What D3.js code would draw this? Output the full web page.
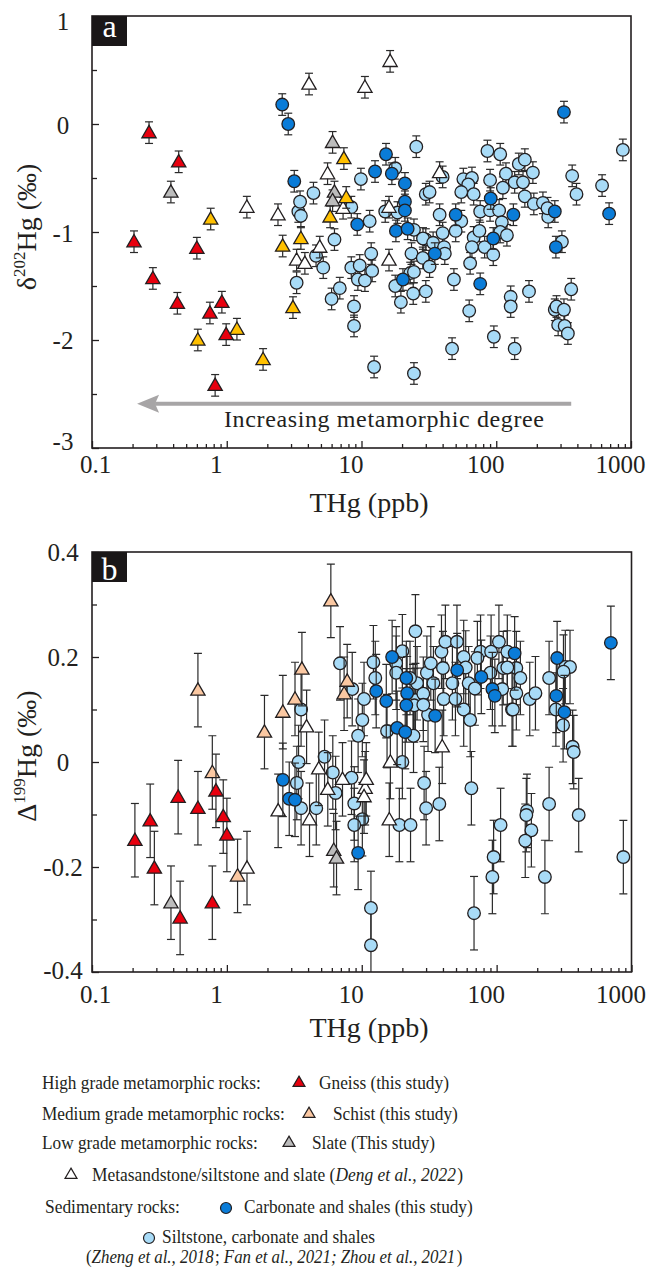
<!DOCTYPE html>
<html><head><meta charset="utf-8">
<script src="https://cdn.jsdelivr.net/npm/d3@7"></script>
<style>
body{margin:0;background:#fff}
svg{display:block}
</style>
</head><body>
<svg id="chart" width="654" height="1271"></svg>
<script>
// ---------------- data ----------------
const xTickValues = [0.1, 1, 10, 100, 1000];
const xTickLabels = ["0.1", "1", "10", "100", "1000"];
const yTickValuesA = [1, 0, -1, -2, -3];
const yTickLabelsA = ["1", "0", "-1", "-2", "-3"];
const yMinorA = [0.5, -0.5, -1.5, -2.5];
const yTickValuesB = [0.4, 0.2, 0, -0.2, -0.4];
const yTickLabelsB = ["0.4", "0.2", "0", "-0.2", "-0.4"];
const yMinorB = [0.3, 0.1, -0.1, -0.3];
const errA = 0.1;   // 2SD on d202Hg
const errB = 0.07;  // 2SD on D199Hg

// Panel a : [THg ppb, d202Hg]
const gneissA = [[0.205,-1.09],[0.265,-0.08],[0.283,-1.43],[0.43,-1.66],[0.44,-0.35],[0.6,-1.15],[0.75,-1.75],[0.82,-2.42],[0.92,-1.65],[0.99,-1.95]];
const schistA = [[0.61,-2.0],[0.76,-0.88],[1.19,-1.90],[1.86,-2.18],[2.6,-1.13],[3.1,-1.70],[3.55,-1.06],[5.85,-0.86],[7.4,-0.32],[7.7,-0.68]];
const slateA = [[0.385,-0.63],[6.1,-0.17],[6.3,-0.63],[6.1,-0.71]];
const dengA = [[1.41,-0.77],[2.4,-0.84],[3.3,-1.26],[3.8,-1.29],[4.08,0.37],[4.9,-1.14],[5.6,-0.46],[7.3,-0.78],[10.6,0.34],[16.3,0.58],[16,-0.77],[16,-1.26],[38,-0.45]];
const darkA = [[2.58,0.18],[2.86,0.0],[3.17,-0.53],[9.3,-0.93],[12.6,-0.44],[15.2,-0.28],[16.8,-0.46],[18,-0.99],[20.3,-1.44],[21,-0.55],[21,-0.72],[21,-0.80],[22,-0.97],[35,-1.2],[50,-0.84],[76,-1.48],[91,-0.69],[95,-1.06],[134,-0.84],[272,-0.81],[277,-1.14],[318,0.11],[688,-0.83]];
const lightA = [[3.3,-1.47],[3.4,-0.81],[3.5,-0.72],[3.55,-0.85],[4.4,-0.64],[4.6,-1.22],[5.2,-1.33],[6.0,-1.62],[6.3,-1.07],[6.9,-1.52],[8.8,-1.69],[8.8,-1.87],[8.4,-1.33],[9.7,-1.31],[9.4,-1.44],[10.6,-1.45],[11.8,-1.2],[12,-1.36],[9.9,-0.51],[11.5,-0.9],[8.4,-0.77],[15,-0.81],[17.8,-0.41],[18.5,-0.82],[25.5,-0.21],[17.8,-1.5],[19.6,-1.65],[23,-1.38],[24.2,-1.57],[23.5,-1.2],[24.5,-0.98],[28.5,-1.24],[30,-1.07],[30,-0.65],[32,-0.63],[32,-1.32],[24.5,-1.37],[30,-1.55],[12.4,-2.25],[24.5,-2.31],[38,-0.84],[40,-0.49],[57,-0.51],[66,-0.5],[86,-0.25],[107,-0.28],[90,-0.52],[118,-0.46],[147,-0.37],[163,-0.33],[187,-0.45],[366,-0.48],[394,-0.65],[610,-0.57],[870,-0.24],[62,-0.56],[55,-0.63],[68,-0.65],[112,-0.59],[137,-0.54],[158,-0.54],[55,-0.9],[76,-0.81],[90,-0.8],[105,-0.8],[110,-0.91],[163,-0.67],[190,-0.74],[222,-0.73],[243,-0.86],[240,-0.78],[307,-1.09],[28.6,-1.06],[34,-1.1],[40,-1.01],[41,-1.14],[50,-0.99],[68,-1.05],[75,-0.99],[82,-1.14],[95,-1.21],[107,-1.0],[120,-1.03],[66,-1.14],[41.5,-1.2],[48.5,-1.44],[64,-1.29],[63,-1.73],[128,-1.6],[128,-1.69],[175,-1.55],[96,-1.97],[137,-2.08],[47,-2.08],[272,-1.72],[280,-1.69],[318,-1.72],[288,-1.86],[322,-1.87],[340,-1.94],[360,-1.53]];

// Panel b : [THg ppb, D199Hg]
const gneissB = [[0.208,-0.149],[0.27,-0.112],[0.29,-0.202],[0.435,-0.067],[0.45,-0.297],[0.61,-0.088],[0.78,-0.268],[0.83,-0.055],[0.94,-0.104],[1.0,-0.139]];
const schistB = [[0.61,0.137],[0.78,-0.02],[1.2,-0.217],[1.9,0.057],[2.6,0.095],[3.2,0.12],[3.6,0.177],[5.9,0.307],[7.4,0.13],[7.8,0.154]];
const slateB = [[0.385,-0.268],[6.2,-0.168],[6.5,-0.183]];
const dengB = [[1.41,-0.202],[2.4,-0.093],[3.9,0.067],[4.1,-0.11],[4.8,-0.013],[5.6,-0.052],[7.2,-0.033],[10.6,-0.05],[10.4,-0.066],[10.8,-0.033],[16.3,0.0],[16,-0.11],[39.5,0.029]];
const darkB = [[2.6,-0.034],[2.9,-0.07],[3.2,-0.072],[9.4,-0.173],[12.8,0.135],[15.2,0.116],[16.8,0.2],[18.3,0.065],[21,0.057],[21.4,0.16],[21.7,0.131],[21.4,0.108],[35,0.088],[51,0.175],[77,0.162],[93,0.139],[97,0.126],[136,0.207],[277,0.126],[281,0.198],[318,0.095],[703,0.227]];
const lightB = [[3.55,0.1],[3.4,0.0],[3.3,-0.04],[3.55,-0.088],[4.6,-0.088],[5.3,0.01],[6.1,-0.02],[6.4,-0.059],[8.4,-0.03],[8.8,-0.079],[10.1,-0.109],[8.8,-0.12],[6.9,0.188],[8.5,0.139],[12.2,0.19],[12.6,0.16],[10.4,0.12],[10.1,0.08],[9.4,0.05],[15.4,0.059],[24.2,0.05],[20,0.211],[25,0.249],[18,0.188],[18,0.17],[24,0.116],[25.7,0.15],[20,0.0],[19,-0.12],[23,-0.12],[29,-0.04],[30,-0.088],[37.6,-0.08],[11.7,-0.278],[11.7,-0.349],[65,-0.05],[68,-0.288],[107,-0.12],[95,-0.181],[93,-0.219],[168,-0.093],[166,-0.101],[181,-0.13],[163,-0.15],[245,-0.08],[228,-0.219],[406,-0.101],[870,-0.181],[366,0.029],[373,0.019],[22.8,0.16],[25,0.118],[28.6,0.13],[24.5,0.108],[30.4,0.17],[32.5,0.188],[34,0.15],[39,0.21],[41.7,0.229],[50.8,0.229],[40,0.179],[40.5,0.12],[31,0.09],[28.6,0.109],[47,0.15],[57,0.2],[59,0.18],[49.5,0.12],[62,0.15],[57,0.1],[63.7,0.08],[69,0.14],[76,0.21],[72,0.198],[91,0.21],[104,0.229],[90,0.17],[110,0.139],[112,0.179],[120,0.21],[140,0.179],[150,0.16],[140,0.131],[130,0.1],[176,0.12],[194,0.131],[245,0.16],[323,0.181],[350,0.181],[313,0.172],[275,0.1],[311,0.07],[132,0.1],[120,0.18]];

// ---------------- drawing ----------------
const INK = "#231f20";
const SERIF = "'Liberation Serif','Times New Roman',serif";
const C = {gneiss:"#e8000e", schistA:"#ffc000", schistB:"#fbc8a2", slate:"#bcbcbc", deng:"#ffffff", dark:"#0a7cd8", light:"#a8dbf7"};
const svg = d3.select("#chart");
svg.append("rect").attr("width",654).attr("height",1271).attr("fill","#fff");
const defs = svg.append("defs");

const triPath = d3.symbol(d3.symbolTriangle, 88)();

function drawPanel(p) {
  const x = d3.scaleLog().domain([0.1, 1000]).range([p.left, p.right]);
  const y = d3.scaleLinear().domain(p.yDomain).range([p.bottom, p.top]);

  defs.append("clipPath").attr("id","clip-"+p.id).append("rect")
    .attr("x",p.left).attr("y",p.top).attr("width",p.right-p.left).attr("height",p.bottom-p.top);

  // x ticks
  const gx = svg.append("g").attr("transform",`translate(0,${p.bottom})`)
    .call(d3.axisBottom(x).tickValues(xTickValues).tickSize(-7).tickPadding(p.xPad).tickFormat((d,i)=>xTickLabels[i]));
  const minorX = [];
  [0.1,1,10,100].forEach(dec => { for (let k=2;k<=9;k++) minorX.push(k*dec); });
  const gxm = svg.append("g").attr("transform",`translate(0,${p.bottom})`)
    .call(d3.axisBottom(x).tickValues(minorX).tickSize(-4).tickFormat(""));
  // y ticks
  const gy = svg.append("g").attr("transform",`translate(${p.left},0)`)
    .call(d3.axisLeft(y).tickValues(p.yTicks).tickSize(-7).tickFormat((d,i)=>p.yLabels[i]));
  const gym = svg.append("g").attr("transform",`translate(${p.left},0)`)
    .call(d3.axisLeft(y).tickValues(p.yMinor).tickSize(-5).tickFormat(""));
  [gx,gxm,gy,gym].forEach(g => {
    g.select(".domain").remove();
    g.attr("font-family",null).attr("font-size",null);
    g.selectAll("line").attr("stroke",INK).attr("stroke-width",1.3);
  });
  gx.selectAll("text").attr("font-family",SERIF).attr("font-size",25).attr("fill",INK)
    .attr("dx",(d,i)=> i===0 ? 3 : -11);
  gy.selectAll("text").attr("font-family",SERIF).attr("font-size",25).attr("fill",INK)
    .attr("text-anchor","middle").attr("x",-(p.left-63))
    .attr("y",(d,i)=>p.yLabelShift[i]);

  // points
  const plot = svg.append("g").attr("clip-path",`url(#clip-${p.id})`);
  p.series.forEach(s => {
    const g = plot.append("g");
    g.selectAll("line.v").data(s.data).join("line").attr("class","v")
      .attr("x1",d=>x(d[0])).attr("x2",d=>x(d[0]))
      .attr("y1",d=>y(d[1]-p.err)).attr("y2",d=>y(d[1]+p.err))
      .attr("stroke","#2a2a2a").attr("stroke-width",1.2);
    [-1,1].forEach(sg => {
      g.selectAll("line.c"+(sg>0?"t":"b")).data(s.data).join("line").attr("class","c"+(sg>0?"t":"b"))
        .attr("x1",d=>x(d[0])-4).attr("x2",d=>x(d[0])+4)
        .attr("y1",d=>y(d[1]+sg*p.err)).attr("y2",d=>y(d[1]+sg*p.err))
        .attr("stroke","#2a2a2a").attr("stroke-width",1.2);
    });
    if (s.shape === "circle") {
      g.selectAll("circle").data(s.data).join("circle")
        .attr("cx",d=>x(d[0])).attr("cy",d=>y(d[1])).attr("r",6.3)
        .attr("fill",s.fill).attr("stroke",INK).attr("stroke-width",1.3);
    } else {
      g.selectAll("path").data(s.data).join("path").attr("d",triPath)
        .attr("transform",d=>`translate(${x(d[0])},${y(d[1])+1})`)
        .attr("fill",s.fill).attr("stroke",INK).attr("stroke-width",1.3).attr("stroke-linejoin","miter");
    }
  });

  // frame
  svg.append("rect").attr("x",p.left).attr("y",p.top).attr("width",p.right-p.left).attr("height",p.bottom-p.top)
    .attr("fill","none").attr("stroke",INK).attr("stroke-width",1.6);

  // panel label
  svg.append("rect").attr("x",p.left).attr("y",p.top).attr("width",35).attr("height",30).attr("fill","#1a1718");
  svg.append("text").attr("x",p.left+17.5).attr("y",p.top+(p.id==="a"?21:28)).attr("text-anchor","middle")
    .attr("font-family",SERIF).attr("font-size",32).attr("fill","#fff").text(p.id);

  // axis titles
  svg.append("text").attr("x",369).attr("y",p.xTitleY).attr("text-anchor","middle")
    .attr("font-family",SERIF).attr("font-size",28).attr("fill",INK).text("THg (ppb)");
  const yt = svg.append("text").attr("transform",`translate(36,${p.yTitleY}) rotate(-90)`)
    .attr("text-anchor","middle").attr("font-family",SERIF).attr("font-size",28).attr("fill",INK);
  yt.append("tspan").text(p.ySym);
  yt.append("tspan").attr("font-size",17).attr("dy",-11).text(p.yIso);
  yt.append("tspan").attr("dy",11).text("Hg (\u2030)");
  return {x, y};
}

const A = drawPanel({
  id:"a", left:92, right:631, top:16, bottom:448, yDomain:[-3,1], err:errA,
  yTicks:yTickValuesA, yLabels:yTickLabelsA, yMinor:yMinorA, yLabelShift:[5,1,1,0,-7],
  xPad:7, xTitleY:512, yTitleY:227, ySym:"\u03b4", yIso:"202",
  series:[
    {data:lightA, shape:"circle", fill:C.light},
    {data:dengA, shape:"tri", fill:C.deng},
    {data:darkA, shape:"circle", fill:C.dark},
    {data:slateA, shape:"tri", fill:C.slate},
    {data:schistA, shape:"tri", fill:C.schistA},
    {data:gneissA, shape:"tri", fill:C.gneiss}
  ]
});

// arrow annotation in panel a
(function(){
  const x = A.x, y = A.y;
  const yA = y(-2.59), x0 = x(360), x1 = x(0.216);
  svg.append("line").attr("x1",x0).attr("x2",x1+18).attr("y1",yA).attr("y2",yA)
    .attr("stroke","#a7a5a6").attr("stroke-width",4);
  svg.append("path").attr("d",`M${x1},${yA} L${x1+22},${yA-9} L${x1+18},${yA} L${x1+22},${yA+9} Z`)
    .attr("fill","#a7a5a6");
  svg.append("text").attr("x",224).attr("y",427).attr("font-family",SERIF).attr("font-size",24)
    .attr("fill",INK).attr("textLength",320).attr("lengthAdjust","spacing")
    .text("Increasing metamorphic degree");
})();

drawPanel({
  id:"b", left:92, right:631.5, top:552, bottom:972, yDomain:[-0.4,0.4], err:errB,
  yTicks:yTickValuesB, yLabels:yTickLabelsB, yMinor:yMinorB, yLabelShift:[0,0,0,0,-2],
  xPad:13.5, xTitleY:1037, yTitleY:756, ySym:"\u0394", yIso:"199",
  series:[
    {data:lightB, shape:"circle", fill:C.light},
    {data:dengB, shape:"tri", fill:C.deng},
    {data:darkB, shape:"circle", fill:C.dark},
    {data:slateB, shape:"tri", fill:C.slate},
    {data:schistB, shape:"tri", fill:C.schistB},
    {data:gneissB, shape:"tri", fill:C.gneiss}
  ]
});

// ---------------- legend ----------------
const legTri = d3.symbol(d3.symbolTriangle, 62)();
function legText(x, y, w, parts) {
  const t = svg.append("text").attr("x",0).attr("y",0).attr("font-family",SERIF).attr("font-size",19)
    .attr("fill",INK);
  parts.forEach((pt, i) => {
    const s = t.append("tspan").text(pt[0]);
    if (pt[1]) s.attr("font-style","italic");
    else if (i > 0 && parts[i-1][1]) s.attr("dx", 1.5);
  });
  const len = t.node().getComputedTextLength();
  const sx = len > 0 ? w / len : 1;
  t.attr("transform", `translate(${x},${y}) scale(${sx},1)`);
}
function legTriangle(x, y, fill) {
  svg.append("path").attr("d",legTri).attr("transform",`translate(${x},${y})`)
    .attr("fill",fill).attr("stroke",INK).attr("stroke-width",1.2);
}
function legCircle(x, y, fill) {
  svg.append("circle").attr("cx",x).attr("cy",y).attr("r",5.5).attr("fill",fill).attr("stroke",INK).attr("stroke-width",1.2);
}
legText(42,1089,219,[["High grade metamorphic rocks:"]]);
legTriangle(299,1083,C.gneiss);
legText(319,1089,130,[["Gneiss (this study)"]]);
legText(42,1120,243,[["Medium grade metamorphic rocks:"]]);
legTriangle(309,1114,C.schistB);
legText(333,1120,125,[["Schist (this study)"]]);
legText(42,1149,216,[["Low grade metamorphic rocks:"]]);
legTriangle(289,1143,C.slate);
legText(312,1149,123,[["Slate (This study)"]]);
legTriangle(71,1175,C.deng);
legText(92,1181,370,[["Metasandstone/siltstone and slate ("],["Deng et al., 2022",true],[")"]]);
legText(45,1213,135,[["Sedimentary rocks:"]]);
legCircle(226,1208,C.dark);
legText(244,1213,229,[["Carbonate and shales (this study)"]]);
legCircle(149,1238,C.light);
legText(162,1243,213,[["Siltstone, carbonate and shales"]]);
legText(86,1263,374,[["("],["Zheng et al., 2018",true],["; "],["Fan et al., 2021; Zhou et al., 2021",true],[")"]]);
</script>
</body></html>
